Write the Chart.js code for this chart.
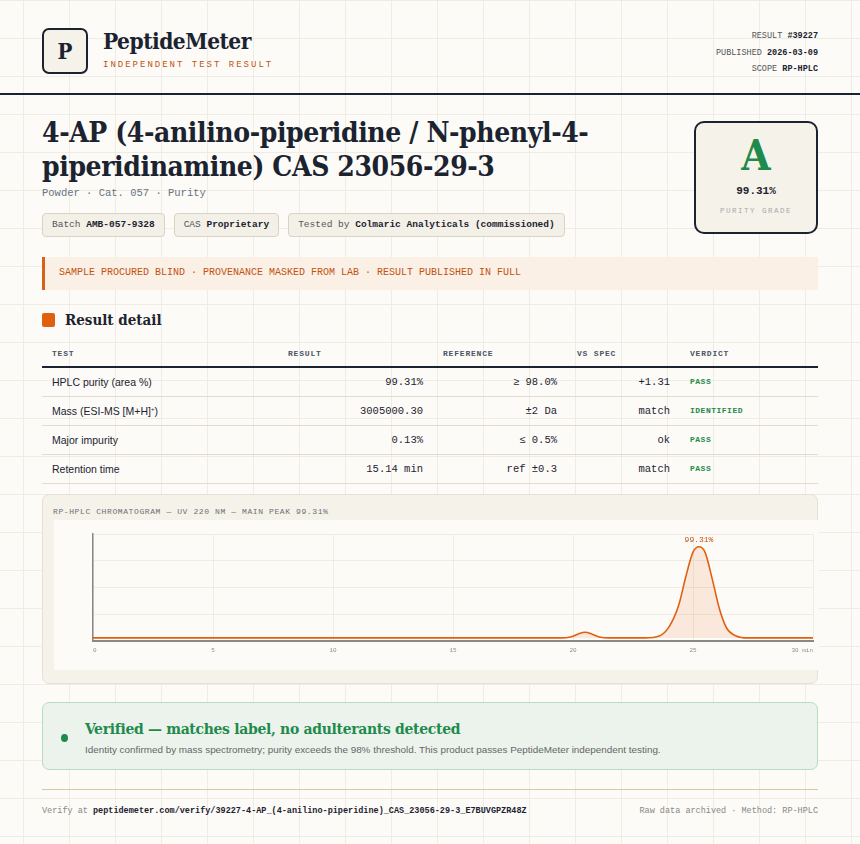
<!DOCTYPE html>
<html>
<head>
<meta charset="utf-8">
<script src="https://cdn.jsdelivr.net/npm/chart.js@4.4.1/dist/chart.umd.min.js"></script>
<style>
  * { box-sizing: border-box; }
  body {
    margin: 0; width: 860px; height: 844px; overflow: hidden;
    background-color: #fcfbf7;
    background-image:
      linear-gradient(#efece4 1px, transparent 1px),
      linear-gradient(90deg, #efece4 1px, transparent 1px);
    background-size: 46px 38px;
    background-position: 23px 0;
    font-family: "Liberation Sans Narrow", "Liberation Sans", sans-serif;
    color: #1c2330;
  }
  .mono { font-family: "Liberation Mono", "DejaVu Sans Mono", monospace; }
  .serif { font-family: "DejaVu Serif Condensed", "DejaVu Serif", serif; }
  header { position: absolute; left: 42px; top: 28px; width: 776px; height: 50px; }
  .logo { position: absolute; left: 0; top: 0; width: 46px; height: 46px; border: 2px solid #1c2330;
    border-radius: 7px; background: #f5f2ea; font-size: 22px; font-weight: bold; text-align: center; line-height: 42px; }
  .brand { position: absolute; left: 61px; top: 0; font-size: 22.5px; font-weight: bold; letter-spacing: -0.5px; }
  .tag { position: absolute; left: 61px; top: 32px; font-size: 9px; letter-spacing: 2px; color: #c4520f; }
  .meta { position: absolute; right: 0; top: 0; text-align: right; font-size: 8.5px; line-height: 16.5px; color: #555; }
  .meta b { color: #1c2330; }
  .rule { position: absolute; left: 0; top: 93px; width: 860px; height: 2px; background: #1c2330; }
  h1 { position: absolute; left: 42px; top: 116px; margin: 0; width: 600px; font-size: 28px; line-height: 34px; font-weight: bold; letter-spacing: -0.4px; }
  .sub { position: absolute; left: 42px; top: 187px; font-size: 10.5px; color: #687383; }
  .chips { position: absolute; left: 42px; top: 213px; display: flex; gap: 9px; }
  .chip { border: 1px solid #d9d3c4; background: #f3f0e8; border-radius: 4px; padding: 0 9px; height: 24px; line-height: 22px; font-size: 9.5px; color: #555; }
  .chip b { color: #1c2330; }
  .grade { position: absolute; left: 694px; top: 121px; width: 124px; height: 113px; border: 2px solid #1c2330; border-radius: 10px; background: #f5f2ea; text-align: center; }
  .grade .A { font-size: 42px; font-weight: bold; color: #1f8a4c; margin-top: 10px; line-height: 46px; }
  .grade .p { font-size: 11px; font-weight: bold; margin-top: 6px; }
  .grade .g { font-size: 7.5px; letter-spacing: 1.5px; color: #a8a8a8; margin-top: 10px; }
  .notice { position: absolute; left: 42px; top: 257px; width: 776px; height: 33px; background: #faf0e6; border-left: 3px solid #d9601a;
    font-size: 10px; color: #c4520f; line-height: 31px; padding-left: 14px; }
  .sect { position: absolute; left: 42px; top: 311px; font-size: 15px; font-weight: bold; }
  .sect i { display: inline-block; width: 13px; height: 14px; background: #e0600f; border-radius: 2px; vertical-align: -2px; margin-right: 10px; }
  table { position: absolute; left: 42px; top: 340px; width: 776px; border-collapse: collapse; font-size: 10.5px; table-layout: fixed; }
  th, td { padding: 0 10px; }
  th { text-align: left; font-size: 8px; letter-spacing: 0.8px; color: #4a5566; font-weight: bold; height: 27px; border-bottom: 2px solid #1c2330; }
  td { height: 29px; border-bottom: 1px solid #e2ddd0; }
  td.r { text-align: right; }
  td.v { font-size: 8px; font-weight: bold; color: #1f8a4c; letter-spacing: 0.5px; }
  .chartbox { position: absolute; left: 42px; top: 494px; width: 776px; height: 190px; background: #f5f2ea; border: 1px solid #e6e1d5; border-radius: 7px; }
  .chartbox .t { position: absolute; left: 10px; top: 12px; font-size: 8px; color: #6a6f78; letter-spacing: 0.6px; }
  .plot { position: absolute; left: 11px; top: 25px; width: 765px; height: 150px; background: #fdfbf7; }
  .ok { position: absolute; left: 42px; top: 702px; width: 776px; height: 68px; background: #ebf3ec; border: 1px solid #b6dcc1; border-radius: 7px; }
  .ok .dot { position: absolute; left: 18px; top: 31px; width: 7px; height: 8px; border-radius: 50%; background: #1f8a4c; }
  .ok .h { position: absolute; left: 42px; top: 16px; font-size: 15.5px; font-weight: bold; color: #1f8a4c; letter-spacing: -0.3px; }
  .ok .s { position: absolute; left: 42px; top: 41px; font-size: 9.9px; color: #666; }
  .frule { position: absolute; left: 42px; top: 789px; width: 776px; height: 1px; background: #d4c9a8; }
  .foot { position: absolute; left: 42px; top: 806px; width: 776px; font-size: 8.5px; color: #888; }
  .foot b { color: #1c2330; }
  .foot span { position: absolute; right: 0; top: 0; }
</style>
</head>
<body>
<header>
  <div class="logo serif">P</div>
  <div class="brand serif">PeptideMeter</div>
  <div class="tag mono">INDEPENDENT TEST RESULT</div>
  <div class="meta mono">RESULT <b>#39227</b><br>PUBLISHED <b>2026-03-09</b><br>SCOPE <b>RP-HPLC</b></div>
</header>
<div class="rule"></div>
<h1 class="serif">4-AP (4-anilino-piperidine / N-phenyl-4-piperidinamine) CAS 23056-29-3</h1>
<div class="sub mono">Powder · Cat. 057 · Purity</div>
<div class="chips mono">
  <div class="chip">Batch <b>AMB-057-9328</b></div>
  <div class="chip">CAS <b>Proprietary</b></div>
  <div class="chip">Tested by <b>Colmaric Analyticals (commissioned)</b></div>
</div>
<div class="grade">
  <div class="A serif">A</div>
  <div class="p mono">99.31%</div>
  <div class="g mono">PURITY GRADE</div>
</div>
<div class="notice mono">SAMPLE PROCURED BLIND · PROVENANCE MASKED FROM LAB · RESULT PUBLISHED IN FULL</div>
<div class="sect serif"><i></i>Result detail</div>
<table>
  <colgroup><col style="width:236px"><col style="width:155px"><col style="width:134px"><col style="width:113px"><col></colgroup>
  <tr class="mono"><th>TEST</th><th>RESULT</th><th>REFERENCE</th><th>VS SPEC</th><th>VERDICT</th></tr>
  <tr><td>HPLC purity (area %)</td><td class="r mono">99.31%</td><td class="r mono">≥ 98.0%</td><td class="r mono">+1.31</td><td class="v mono">PASS</td></tr>
  <tr><td>Mass (ESI-MS [M+H]<sup style="font-size:6px">+</sup>)</td><td class="r mono">3005000.30</td><td class="r mono">±2 Da</td><td class="r mono">match</td><td class="v mono">IDENTIFIED</td></tr>
  <tr><td>Major impurity</td><td class="r mono">0.13%</td><td class="r mono">≤ 0.5%</td><td class="r mono">ok</td><td class="v mono">PASS</td></tr>
  <tr><td>Retention time</td><td class="r mono">15.14 min</td><td class="r mono">ref ±0.3</td><td class="r mono">match</td><td class="v mono">PASS</td></tr>
</table>
<div class="chartbox">
  <div class="t mono">RP-HPLC CHROMATOGRAM — UV 220 NM — MAIN PEAK 99.31%</div>
  <div class="plot"><canvas id="chrom"></canvas></div>
</div>
<div class="ok">
  <div class="dot"></div>
  <div class="h serif">Verified — matches label, no adulterants detected</div>
  <div class="s">Identity confirmed by mass spectrometry; purity exceeds the 98% threshold. This product passes PeptideMeter independent testing.</div>
</div>
<div class="frule"></div>
<div class="foot mono">Verify at <b>peptidemeter.com/verify/39227-4-AP_(4-anilino-piperidine)_CAS_23056-29-3_E7BUVGPZR48Z</b><span>Raw data archived · Method: RP-HPLC</span></div>

<script>
// 保持時間 (min) と吸光度 (相対値)
const retentionTimes = [0, 19.5, 19.9, 20.2, 20.5, 20.8, 21.1, 21.5, 23.0, 23.6, 24.0, 24.4, 24.7, 25.0, 25.25, 25.5, 25.8, 26.1, 26.4, 26.8, 27.3, 30];
const absorbance     = [2.7, 2.7, 3.6, 6.2, 8.0, 6.2, 3.6, 2.7, 2.7, 4.5, 13, 33, 60, 83, 88, 83, 58, 30, 12, 4.5, 2.7, 2.7];
const xTicks = [0, 5, 10, 15, 20, 25, 30];
const peakLabel = '99.31%';
const baseline = 2.7;

// ピーク上にラベルを描画
const peakLabelPlugin = {
    id: 'peakLabel',
    afterDatasetsDraw(chart) {
        const meta = chart.getDatasetMeta(0);
        let top = meta.data[0];
        meta.data.forEach(p => { if (p.y < top.y) top = p; });
        const ctx = chart.ctx;
        ctx.save();
        ctx.font = '8px "Liberation Mono", monospace';
        ctx.fillStyle = '#c4520f';
        ctx.textAlign = 'center';
        ctx.fillText(peakLabel, top.x, top.y - 5);
        ctx.restore();
    }
};

const ctx = document.getElementById('chrom').getContext('2d');
new Chart(ctx, {
    type: 'line',
    data: {
        datasets: [{
            data: retentionTimes.map((t, i) => ({ x: t, y: absorbance[i] })),
            borderColor: '#e0600f',
            backgroundColor: 'rgba(224, 96, 15, 0.12)',
            borderWidth: 1.6,
            pointRadius: 0,
            tension: 0.4,
            cubicInterpolationMode: 'monotone',
            fill: { value: baseline }
        }]
    },
    options: {
        responsive: true,
        maintainAspectRatio: false,
        animation: false,
        layout: { padding: { left: 39, right: 6, top: 14, bottom: 10 } },
        scales: {
            x: {
                type: 'linear', min: 0, max: 30,
                afterBuildTicks: axis => { axis.ticks = xTicks.map(v => ({ value: v })); },
                ticks: {
                    font: { size: 6, family: '"Liberation Mono", monospace' }, color: '#8a8f98',
                    maxRotation: 0, padding: 6, align: 'inner',
                    callback: v => v === 30 ? '30 min' : v
                },
                grid: { color: '#efece4', drawTicks: false },
                border: { color: '#888', width: 2 }
            },
            y: {
                min: 0, max: 100,
                ticks: { stepSize: 25, display: false },
                grid: { color: '#efece4', drawTicks: false },
                border: { color: '#888', width: 1.5 }
            }
        },
        plugins: { legend: { display: false }, tooltip: { enabled: false } }
    },
    plugins: [peakLabelPlugin]
});
</script>
</body>
</html>
